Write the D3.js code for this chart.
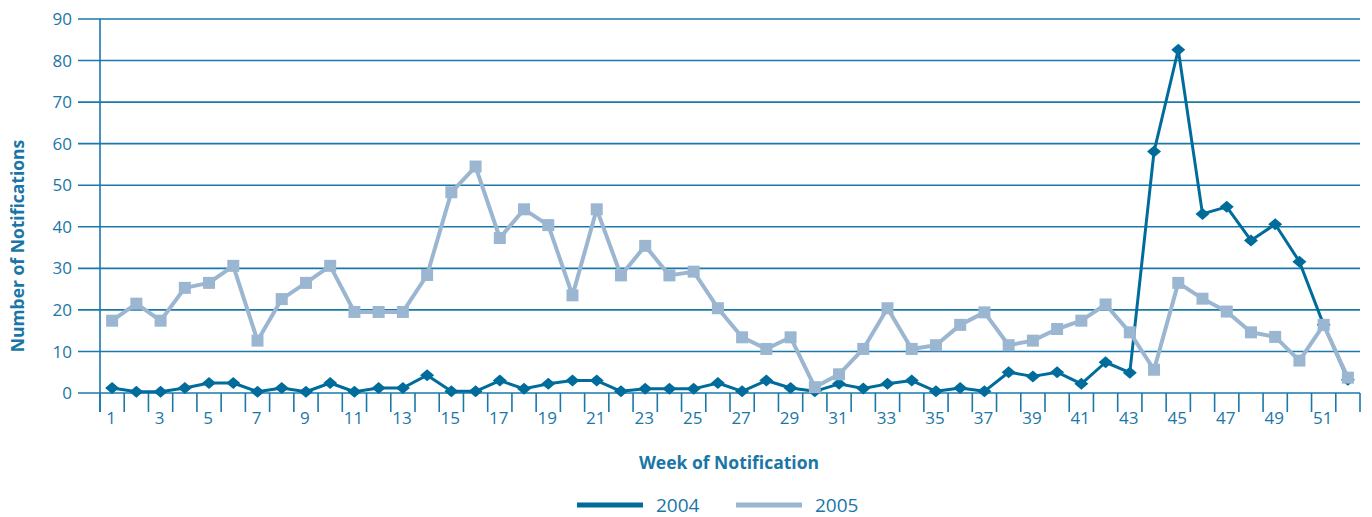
<!DOCTYPE html>
<html><head><meta charset="utf-8">
<script src="https://cdn.jsdelivr.net/npm/d3@7"></script>
<style>body{margin:0;background:#fff}svg{display:block}</style>
</head><body>
<svg id="c" width="1372" height="517"></svg>
<script>
const weeks = d3.range(1, 53);
const s2004 = [1.2,0.3,0.3,1.2,2.4,2.4,0.3,1.2,0.3,2.4,0.3,1.2,1.2,4.3,0.4,0.4,3.0,1.0,2.2,3.0,3.0,0.4,1.0,1.0,1.0,2.4,0.4,3.0,1.2,0.4,2.2,1.1,2.2,3.0,0.4,1.2,0.4,5.0,4.0,5.0,2.2,7.4,4.9,58.1,82.6,43.1,44.8,36.7,40.6,31.6,16.4,3.2];
const s2005 = [17.4,21.5,17.4,25.3,26.5,30.6,12.6,22.6,26.5,30.6,19.5,19.5,19.5,28.4,48.3,54.5,37.3,44.2,40.4,23.5,44.2,28.3,35.4,28.3,29.2,20.4,13.4,10.6,13.4,1.4,4.5,10.6,20.4,10.6,11.5,16.4,19.4,11.5,12.6,15.4,17.4,21.3,14.6,5.6,26.5,22.7,19.6,14.6,13.5,7.8,16.4,3.7];
const yTicks = [0,10,20,30,40,50,60,70,80,90];
const xLabels = weeks.filter(w => w % 2 === 1);
const seriesNames = ["2004","2005"];

const C_TEXT = "#1a76a6", C_GRID = "#1a78aa", C_DARK = "#006c9c", C_LIGHT = "#9bb6d1";
const FONT = "'Open Sans', sans-serif";

const svg = d3.select("#c");
const L = 100, R = 1360, T = 19, B = 393;
const x = d3.scaleBand().domain(weeks).range([L, R]).padding(0);
const y = d3.scaleLinear().domain([0, 90]).range([B, T]);

// gridlines
svg.append("g").selectAll("line").data(yTicks).join("line")
  .attr("x1", 78).attr("x2", R).attr("y1", d => y(d)).attr("y2", d => y(d))
  .attr("stroke", C_GRID).attr("stroke-width", 1.6);
// y labels
svg.append("g").selectAll("text").data(yTicks).join("text")
  .attr("x", 72).attr("y", d => y(d)).attr("dy", "0.36em").attr("text-anchor", "end")
  .attr("font-family", FONT).attr("font-size", 17).attr("fill", C_TEXT).text(d => d);
// y axis line
svg.append("line").attr("x1", L).attr("x2", L).attr("y1", T).attr("y2", 412)
  .attr("stroke", C_GRID).attr("stroke-width", 1.6);
// x ticks at band boundaries
const bounds = weeks.map(w => x(w)).concat([R]);
svg.append("g").selectAll("line").data(bounds).join("line")
  .attr("x1", d => d).attr("x2", d => d).attr("y1", B).attr("y2", 412)
  .attr("stroke", C_GRID).attr("stroke-width", 1.6);
svg.append("g").selectAll("text").data(xLabels).join("text")
  .attr("x", d => x(d) + x.bandwidth() / 2 - 1).attr("y", 424).attr("text-anchor", "middle")
  .attr("font-family", FONT).attr("font-size", 17).attr("fill", C_TEXT).text(d => d);

// titles
svg.append("text").attr("transform", "translate(24,246) rotate(-90)").attr("text-anchor", "middle")
  .attr("font-family", FONT).attr("font-weight", "bold").attr("font-size", 17.5).attr("fill", C_TEXT)
  .text("Number of Notifications");
svg.append("text").attr("x", 729).attr("y", 469).attr("text-anchor", "middle")
  .attr("font-family", FONT).attr("font-weight", "bold").attr("font-size", 17.5).attr("fill", C_TEXT)
  .text("Week of Notification");

const cx = w => x(w) + x.bandwidth() / 2;
const line = d3.line().x((d, i) => cx(weeks[i])).y(d => y(d));

// 2004
svg.append("path").datum(s2004).attr("d", line).attr("fill", "none")
  .attr("stroke", C_DARK).attr("stroke-width", 3).attr("stroke-linejoin", "round");
svg.append("g").selectAll("path").data(s2004).join("path")
  .attr("d", (d, i) => { const px = cx(weeks[i]), py = y(d); return `M${px-7},${py}L${px},${py-6}L${px+7},${py}L${px},${py+6}Z`; })
  .attr("fill", C_DARK);
// 2005
svg.append("path").datum(s2005).attr("d", line).attr("fill", "none")
  .attr("stroke", C_LIGHT).attr("stroke-width", 4).attr("stroke-linejoin", "round");
svg.append("g").selectAll("rect").data(s2005).join("rect")
  .attr("x", (d, i) => cx(weeks[i]) - 6).attr("y", d => y(d) - 6).attr("width", 12).attr("height", 12)
  .attr("fill", C_LIGHT);

// legend
const leg = [{n: seriesNames[0], c: C_DARK, x: 577}, {n: seriesNames[1], c: C_LIGHT, x: 736}];
const lg = svg.append("g").selectAll("g").data(leg).join("g");
lg.append("line").attr("x1", d => d.x).attr("x2", d => d.x + 66).attr("y1", 505).attr("y2", 505)
  .attr("stroke", d => d.c).attr("stroke-width", 5);
lg.append("text").attr("x", d => d.x + 79).attr("y", 512).attr("font-family", FONT)
  .attr("font-size", 19).attr("fill", C_TEXT).text(d => d.n);
</script>
</body></html>
